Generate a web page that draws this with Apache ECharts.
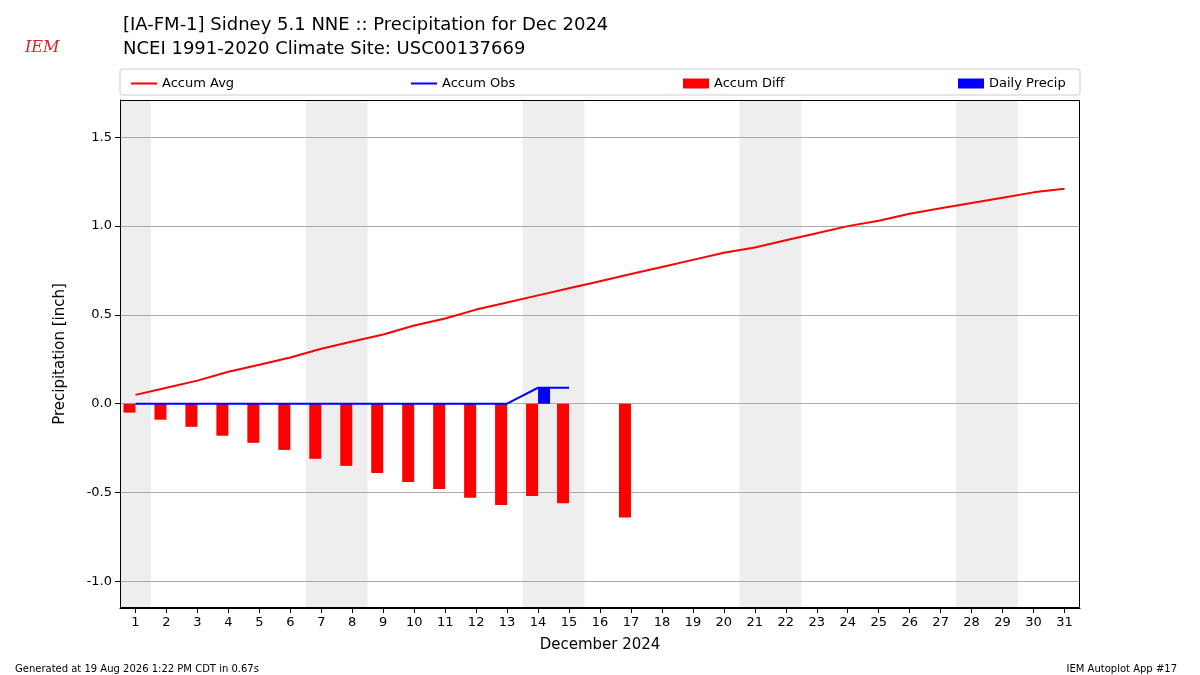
<!DOCTYPE html>
<html><head><meta charset="utf-8">
<script src="https://cdn.jsdelivr.net/npm/echarts@6/dist/echarts.min.js"></script>
<style>html,body{margin:0;padding:0;background:#fff}#c{width:1200px;height:675px}</style>
</head><body><div id="c"></div>
<script>
const days = Array.from({length:31},(_,i)=>i+1);
const accumAvg = [0.05,0.09,0.13,0.18,0.22,0.26,0.31,0.35,0.39,0.44,0.48,0.53,0.57,0.61,0.65,0.69,0.73,0.77,0.81,0.85,0.88,0.92,0.96,1.00,1.03,1.07,1.10,1.13,1.16,1.19,1.21];
const accumObs = [0,0,0,0,0,0,0,0,0,0,0,0,0,0.09,0.09];
const accumDiff = [-0.05,-0.09,-0.13,-0.18,-0.22,-0.26,-0.31,-0.35,-0.39,-0.44,-0.48,-0.53,-0.57,-0.52,-0.56,null,-0.64];
const dailyPrecip = [0,0,0,0,0,0,0,0,0,0,0,0,0,0.09,0];
const weekends = [[0.5,1.5],[6.5,8.5],[13.5,15.5],[20.5,22.5],[27.5,29.5]];
const yTicks = [-1.0,-0.5,0.0,0.5,1.0,1.5];

const pair = arr => arr.map((v,i)=>[days[i],v]).filter(p=>p[1]!==null);
const chart = echarts.init(document.getElementById('c'));
const F = 'DejaVu Sans';
const legendBase = {top:72,itemWidth:26,itemHeight:10,textStyle:{fontFamily:F,fontSize:13,color:'#000'}};
chart.setOption({
  animation:false,
  textStyle:{fontFamily:F},
  grid:{left:120,right:120,top:100,bottom:67},
  title:[
    {text:'[IA-FM-1] Sidney 5.1 NNE :: Precipitation for Dec 2024\nNCEI 1991-2020 Climate Site: USC00137669',left:118,top:8,textStyle:{fontFamily:F,fontSize:18,fontWeight:'normal',color:'#000',lineHeight:24}},
    {text:'Generated at 19 Aug 2026 1:22 PM CDT in 0.67s',left:10,top:659,textStyle:{fontFamily:F,fontSize:10,fontWeight:'normal',color:'#000'}},
    {text:'IEM Autoplot App #17',right:18,top:659,textStyle:{fontFamily:F,fontSize:10,fontWeight:'normal',color:'#000'}},
    {text:'IEM',left:20,top:35,textStyle:{fontFamily:'DejaVu Serif',fontStyle:'italic',fontSize:16,fontWeight:'normal',color:'#d62728'}}
  ],
  graphic:[
    {type:'rect',shape:{x:120,y:69,width:960,height:26,r:2},style:{fill:'none',stroke:'#ccc'}},
    {type:'rect',z:100,shape:{x:120.5,y:100.5,width:959,height:507},style:{fill:'none',stroke:'#000',lineWidth:1}}
  ],
  legend:[
    Object.assign({left:126,data:[{name:'Accum Avg',icon:'path://M0,4L26,4L26,6L0,6Z'}]},legendBase),
    Object.assign({left:406,data:[{name:'Accum Obs',icon:'path://M0,4L26,4L26,6L0,6Z'}]},legendBase),
    Object.assign({left:678,data:[{name:'Accum Diff',icon:'rect'}]},legendBase),
    Object.assign({left:953,data:[{name:'Daily Precip',icon:'rect'}]},legendBase)
  ],
  xAxis:{type:'value',min:0.5,max:31.5,name:'December 2024',nameLocation:'middle',nameGap:30,
    nameTextStyle:{fontFamily:F,fontSize:15,color:'#000'},
    axisLine:{show:true,onZero:false,lineStyle:{color:'#000'}},
    axisTick:{show:true,length:5,customValues:days,lineStyle:{color:'#000'}},
    axisLabel:{fontFamily:F,fontSize:13,color:'#000',customValues:days,formatter:v=>String(v)},
    splitLine:{show:false}},
  yAxis:{type:'value',min:-1.15,max:1.71,name:'Precipitation [inch]',nameLocation:'middle',nameGap:52,
    nameTextStyle:{fontFamily:F,fontSize:15,color:'#000'},
    axisLine:{show:true,lineStyle:{color:'#000'}},axisTick:{show:true,length:5,customValues:yTicks,lineStyle:{color:'#000'}},
    axisLabel:{fontFamily:F,fontSize:13,color:'#000',customValues:yTicks,formatter:v=>v.toFixed(1)},
    splitLine:{show:true,lineStyle:{color:'#aaa'}}},
  series:[
    {name:'shade',type:'line',data:[],z:-1,silent:true,
      markArea:{silent:true,z:-1,itemStyle:{color:'#eeeeee'},data:weekends.map(w=>[{xAxis:w[0]},{xAxis:w[1]}])}},
    {name:'Accum Diff',type:'bar',data:pair(accumDiff),barWidth:12,barGap:'0%',itemStyle:{color:'#ff0000'},z:3},
    {name:'Daily Precip',type:'bar',data:pair(dailyPrecip),barWidth:12,itemStyle:{color:'#0000ff'},z:3},
    {name:'Accum Avg',type:'line',data:pair(accumAvg),symbol:'none',lineStyle:{color:'#ff0000',width:2},itemStyle:{color:'#ff0000'},z:4},
    {name:'Accum Obs',type:'line',data:pair(accumObs),symbol:'none',lineStyle:{color:'#0000ff',width:2},itemStyle:{color:'#0000ff'},z:4}
  ]
});
</script></body></html>
